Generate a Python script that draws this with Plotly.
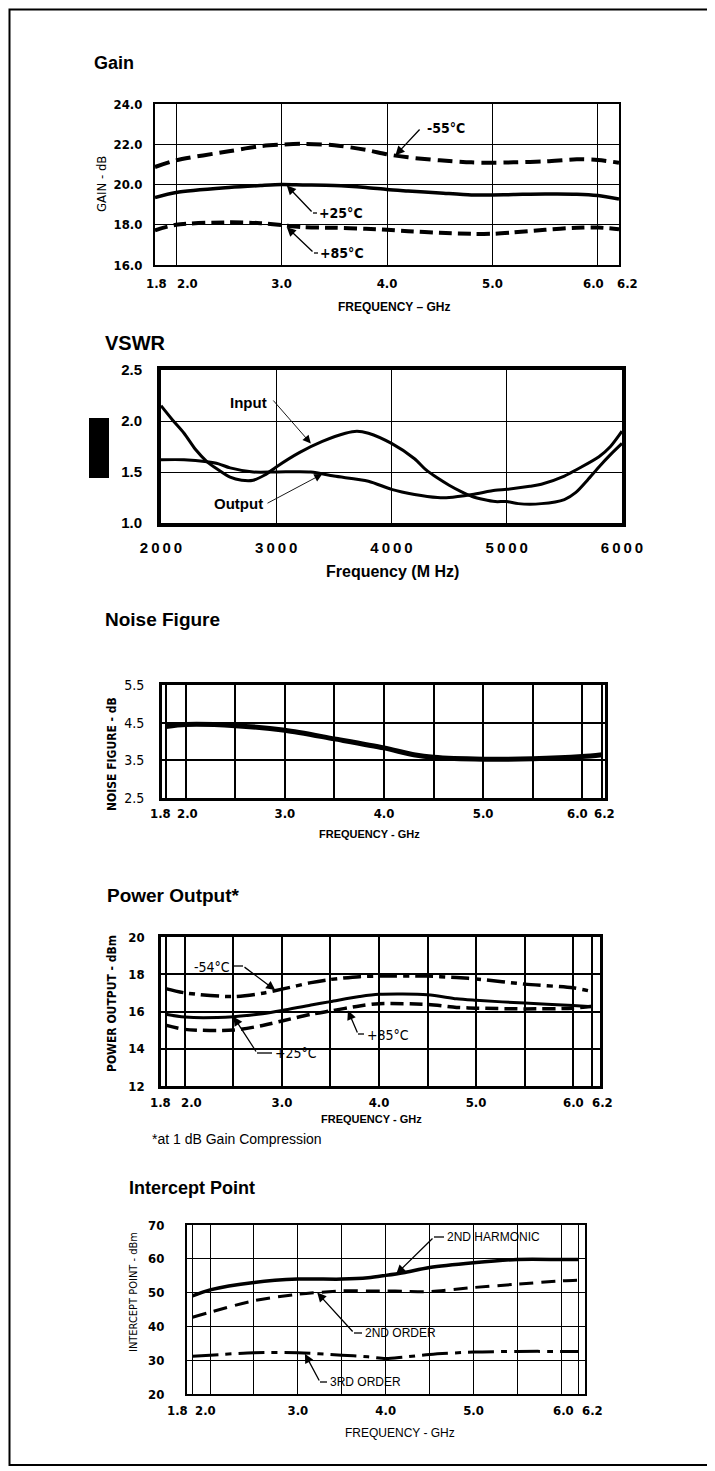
import plotly.graph_objects as go

# Browser body margin is 8px, so the figure is sized to the remaining window
OFF = 8
W, H = 715 - OFF, 1471 - OFF

# ---------------- data ----------------
gain_freq = [1.8, 2.0, 2.5, 2.8, 3.0, 3.2, 3.5, 3.8, 4.0, 4.2, 4.5, 4.8, 5.0, 5.2, 5.5, 5.8, 6.0, 6.2]
gain_m55 = [20.87, 21.2, 21.65, 21.9, 21.98, 22.02, 21.95, 21.72, 21.5, 21.35, 21.2, 21.1, 21.08, 21.1, 21.15, 21.25, 21.22, 21.08]
gain_p25 = [19.35, 19.6, 19.85, 19.95, 20.0, 19.98, 19.95, 19.85, 19.75, 19.68, 19.58, 19.48, 19.48, 19.5, 19.53, 19.52, 19.45, 19.28]
gain_p85 = [17.72, 18.0, 18.12, 18.08, 17.98, 17.88, 17.85, 17.8, 17.75, 17.68, 17.6, 17.55, 17.55, 17.62, 17.75, 17.85, 17.86, 17.78]

vswr_in_freq = [2000, 2100, 2200, 2300, 2400, 2500, 2600, 2700, 2800, 2900, 3000, 3200, 3400, 3600, 3700, 3800,
                4000, 4200, 4300, 4400, 4500, 4600, 4700, 4800, 4900, 5000, 5100, 5300, 5500, 5600, 5700, 5800, 5900, 6000]
vswr_in = [2.15, 2.01, 1.88, 1.72, 1.6, 1.52, 1.45, 1.42, 1.42, 1.47, 1.55, 1.69, 1.8, 1.88, 1.9, 1.88,
           1.78, 1.63, 1.52, 1.44, 1.37, 1.31, 1.26, 1.23, 1.21, 1.21, 1.19, 1.19, 1.23, 1.3, 1.42, 1.55, 1.67, 1.78]
vswr_out_freq = [2000, 2200, 2400, 2500, 2600, 2800, 3000, 3300, 3500, 3800, 4000, 4200, 4400, 4500, 4700, 4900,
                 5000, 5200, 5300, 5500, 5600, 5800, 5900, 6000]
vswr_out = [1.62, 1.62, 1.6, 1.58, 1.54, 1.5, 1.5, 1.5, 1.46, 1.41, 1.33, 1.28, 1.25, 1.25, 1.28, 1.32,
            1.33, 1.36, 1.38, 1.46, 1.52, 1.65, 1.75, 1.9]

nf_freq = [1.8, 2.0, 2.5, 3.0, 3.5, 4.0, 4.3, 4.5, 5.0, 5.5, 6.0, 6.2]
nf_db = [4.4, 4.45, 4.42, 4.3, 4.07, 3.83, 3.65, 3.58, 3.53, 3.54, 3.6, 3.65]

pw_freq = [1.8, 2.0, 2.5, 2.8, 3.0, 3.3, 3.5, 3.8, 4.0, 4.5, 4.8, 5.0, 5.5, 6.0, 6.2]
pw_m54 = [17.23, 17.0, 16.8, 16.98, 17.2, 17.55, 17.72, 17.87, 17.9, 17.9, 17.82, 17.75, 17.47, 17.27, 17.07]
pw_p25 = [15.85, 15.7, 15.72, 15.88, 16.05, 16.35, 16.53, 16.8, 16.92, 16.9, 16.68, 16.6, 16.45, 16.32, 16.26]
pw_p85 = [15.27, 15.04, 15.0, 15.25, 15.49, 15.85, 16.03, 16.3, 16.42, 16.38, 16.22, 16.18, 16.14, 16.18, 16.28]

ip_freq = [1.8, 2.0, 2.5, 3.0, 3.5, 3.8, 4.0, 4.2, 4.5, 5.0, 5.5, 6.0, 6.2]
ip_h2 = [49.0, 50.8, 53.0, 54.0, 54.0, 54.4, 55.1, 55.9, 57.4, 58.8, 59.8, 59.8, 59.8]
ip_o2 = [42.7, 44.2, 47.6, 49.5, 50.5, 50.5, 50.5, 50.4, 50.3, 51.5, 52.5, 53.5, 53.7]
ip_o3 = [31.2, 31.5, 32.2, 32.2, 31.5, 31.0, 30.5, 30.9, 31.7, 32.4, 32.6, 32.6, 32.6]

# tick values / labels
ghz_ticks = [1.8, 2.0, 3.0, 4.0, 5.0, 6.0, 6.2]
ghz_labels = ['1.8', '2.0', '3.0', '4.0', '5.0', '6.0', '6.2']
ghz_minor = [2.5, 3.5, 4.5, 5.5]
gain_ticks = [16, 18, 20, 22, 24]
gain_labels = ['16.0', '18.0', '20.0', '22.0', '24.0']
mhz_ticks = [2000, 3000, 4000, 5000, 6000]
mhz_labels = ['2000', '3000', '4000', '5000', '6000']
vswr_ticks = [1.0, 1.5, 2.0, 2.5]
vswr_labels = ['1.0', '1.5', '2.0', '2.5']
nf_ticks = [2.5, 3.5, 4.5, 5.5]
nf_labels = ['2.5', '3.5', '4.5', '5.5']
pw_ticks = [12, 14, 16, 18, 20]
pw_labels = ['12', '14', '16', '18', '20']
ip_ticks = [20, 30, 40, 50, 60, 70]
ip_labels = ['20', '30', '40', '50', '60', '70']

# ---------------- styling ----------------
BLACK = '#000000'
COND = "Liberation Sans Narrow, Arial Narrow, DejaVu Sans Condensed, Roboto, Liberation Sans, Arial, sans-serif"
SANS = "Liberation Sans, Arial, Helvetica, sans-serif"

panels = [
    dict(x0=155, x1=619, y0=104, y1=265, xr=[1.8, 6.2], yr=[16, 24]),
    dict(x0=161, x1=622, y0=370, y1=523, xr=[2000, 6000], yr=[1.0, 2.5]),
    dict(x0=162, x1=605, y0=685, y1=798, xr=[1.76, 6.23], yr=[2.5, 5.5]),
    dict(x0=161, x1=600, y0=937, y1=1086, xr=[1.753, 6.278], yr=[12, 20]),
    dict(x0=187, x1=585, y0=1225, y1=1394, xr=[1.737, 6.27], yr=[20, 70]),
]

# crowded end labels are drawn as separate texts, nudged (px) like the printed sheet
end_labels = {
    0: dict(y=284, nudge={'1.8': 1, '2.0': 11, '6.0': -4, '6.2': 8}),
    2: dict(y=813, nudge={'1.8': -5, '2.0': 2, '6.0': -5, '6.2': 2}),
    3: dict(y=1102, nudge={'1.8': -5, '2.0': 7, '6.0': 0, '6.2': 10}),
    4: dict(y=1410, nudge={'1.8': -15, '2.0': -5, '6.0': 2, '6.2': 14}),
}


def spaced(labels):
    return ['\u2009'.join(list(l)) for l in labels]


def px(x):
    return (x - OFF) / W


def py(y):
    return 1 - (y - OFF) / H


def d2p(i, xv, yv):
    p = panels[i]
    X = p['x0'] + (xv - p['xr'][0]) / (p['xr'][1] - p['xr'][0]) * (p['x1'] - p['x0'])
    Y = p['y1'] - (yv - p['yr'][0]) / (p['yr'][1] - p['yr'][0]) * (p['y1'] - p['y0'])
    return X, Y


def sfx(i):
    return '' if i == 0 else str(i + 1)


fig = go.Figure()


def add_line(i, x, y, width, dash='solid', smoothing=0.8):
    s = sfx(i)
    fig.add_trace(go.Scatter(
        x=x, y=y, mode='lines', xaxis='x' + s, yaxis='y' + s,
        line=dict(color=BLACK, width=width, dash=dash, shape='spline', smoothing=smoothing),
        hoverinfo='skip', showlegend=False))


add_line(0, gain_freq, gain_m55, 4, '15px,7px')
add_line(0, gain_freq, gain_p25, 3.5)
add_line(0, gain_freq, gain_p85, 4, '13px,6px')

add_line(1, vswr_in_freq, vswr_in, 3)
add_line(1, vswr_out_freq, vswr_out, 3)

add_line(2, nf_freq, nf_db, 5)

add_line(3, pw_freq, pw_m54, 3.5, '18px,6px,6px,6px')
add_line(3, pw_freq, pw_p25, 3)
add_line(3, pw_freq, pw_p85, 3.5, '13px,6px')

add_line(4, ip_freq, ip_h2, 3.5)
add_line(4, ip_freq, ip_o2, 3, '14px,8px')
add_line(4, ip_freq, ip_o3, 3, '26px,7px,6px,7px')

XT = dict(family=COND, size=13, color=BLACK, weight=700)
mid_labels = [l if l in ('3.0', '4.0', '5.0') else '' for l in ghz_labels]

axis_specs = [
    dict(xt=ghz_ticks, xl=mid_labels, xminor=None, yt=gain_ticks, yl=gain_labels,
         frame=2, grid=1.3, xfont=XT,
         yfont=dict(family=COND, size=13, color=BLACK, weight=700), xs=5, ys=8),
    dict(xt=mhz_ticks, xl=spaced(mhz_labels), xminor=None, yt=vswr_ticks, yl=vswr_labels,
         frame=4, grid=1,
         xfont=dict(family=SANS, size=15, color=BLACK, weight=700),
         yfont=dict(family=SANS, size=15, color=BLACK, weight=700), xs=8, ys=12),
    dict(xt=ghz_ticks, xl=mid_labels, xminor=ghz_minor, yt=nf_ticks, yl=nf_labels,
         frame=3, grid=1.8, xfont=XT,
         yfont=dict(family=COND, size=14, color=BLACK), xs=1, ys=12),
    dict(xt=ghz_ticks, xl=mid_labels, xminor=ghz_minor, yt=pw_ticks, yl=pw_labels,
         frame=2.5, grid=1.5, xfont=XT,
         yfont=dict(family=COND, size=13, color=BLACK, weight=700), xs=3, ys=11),
    dict(xt=ghz_ticks, xl=mid_labels, xminor=ghz_minor, yt=ip_ticks, yl=ip_labels,
         frame=2, grid=1.3, xfont=XT,
         yfont=dict(family=COND, size=13, color=BLACK, weight=700), xs=3, ys=18),
]

layout = dict(width=W, height=H, margin=dict(l=0, r=0, t=0, b=0, pad=0, autoexpand=False),
              paper_bgcolor='white', plot_bgcolor='white', showlegend=False)

for i, (p, a) in enumerate(zip(panels, axis_specs)):
    s = sfx(i)
    xa = dict(domain=[px(p['x0']), px(p['x1'])], range=p['xr'], anchor='y' + s,
              tickmode='array', tickvals=a['xt'], ticktext=a['xl'], tickangle=0,
              tickfont=a['xfont'], ticks='', ticklabelstandoff=a['xs'], automargin=False,
              showgrid=True, gridcolor=BLACK, gridwidth=a['grid'], zeroline=False,
              showline=True, mirror=True, linecolor=BLACK, linewidth=a['frame'], fixedrange=True)
    if a['xminor']:
        xa['minor'] = dict(tickmode='array', tickvals=a['xminor'], showgrid=True,
                           gridcolor=BLACK, gridwidth=a['grid'], ticks='')
    ya = dict(domain=[py(p['y1']), py(p['y0'])], range=p['yr'], anchor='x' + s,
              tickmode='array', tickvals=a['yt'], ticktext=a['yl'],
              tickfont=a['yfont'], ticks='', ticklabelstandoff=a['ys'], automargin=False,
              showgrid=True, gridcolor=BLACK, gridwidth=a['grid'], zeroline=False,
              showline=True, mirror=True, linecolor=BLACK, linewidth=a['frame'], fixedrange=True)
    layout['xaxis' + s] = xa
    layout['yaxis' + s] = ya

annotations = []
shapes = []


def text(x, y, t, font, xanchor='left', angle=0):
    annotations.append(dict(x=px(x), y=py(y), xref='paper', yref='paper', text=t, showarrow=False,
                            xanchor=xanchor, yanchor='middle', font=font, textangle=angle, borderpad=0))


# end tick labels (1.8, 2.0, 6.0, 6.2)
for i, spec in end_labels.items():
    for val, lab in zip(ghz_ticks, ghz_labels):
        if lab in spec['nudge']:
            X, _ = d2p(i, val, panels[i]['yr'][0])
            text(X + spec['nudge'][lab], spec['y'], lab, XT, 'center')

# panel titles
TF = dict(family=SANS, size=19, color=BLACK, weight=700)
text(93, 63, 'Gain', dict(family=SANS, size=18, color=BLACK, weight=700))
text(104, 343, 'VSWR', dict(family=SANS, size=20, color=BLACK, weight=700))
text(104, 619, 'Noise Figure', TF)
text(106, 895, 'Power Output*', TF)
text(128, 1188, 'Intercept Point', dict(family=SANS, size=18, color=BLACK, weight=700))

# axis titles
XF = dict(family=SANS, size=12, color=BLACK, weight=700)
text(394, 307, 'FREQUENCY – GHz', XF, 'center')
text(392, 572, 'Frequency (M Hz)', dict(family=SANS, size=16, color=BLACK, weight=700), 'center')
text(369, 834, 'FREQUENCY - GHz', dict(family=SANS, size=11, color=BLACK, weight=700), 'center')
text(371, 1119, 'FREQUENCY - GHz', dict(family=SANS, size=11, color=BLACK, weight=700), 'center')
text(400, 1433, 'FREQUENCY - GHz', dict(family=SANS, size=12, color=BLACK), 'center')
text(151, 1139, '*at 1 dB Gain Compression', dict(family=SANS, size=14, color=BLACK))

text(101, 184, 'GAIN - dB', dict(family=COND, size=13, color=BLACK), 'center', -90)
text(112, 754, 'NOISE FIGURE - dB', dict(family=COND, size=12, color=BLACK, weight=700), 'center', -90)
text(112, 1004, 'POWER OUTPUT - dBm', dict(family=COND, size=12, color=BLACK, weight=700), 'center', -90)
text(133, 1292, 'INTERCEPT POINT - dBm', dict(family=COND, size=11, color=BLACK), 'center', -90)

# leader labels: panel, tip (data), kink px, segment end px (or None), label pos px, anchor, text, font
LG = dict(family=COND, size=14, color=BLACK, weight=700)
LV = dict(family=SANS, size=15, color=BLACK, weight=700)
LP = dict(family=COND, size=14, color=BLACK)
LI = dict(family=SANS, size=12, color=BLACK)
leaders = [
    (0, (4.08, 21.45), (421, 128), None, (426, 128), 'left', '-55°C', LG),
    (0, (3.05, 19.95), (313, 213), (317, 213), (318, 213), 'left', '+25°C', LG),
    (0, (3.05, 17.88), (314, 253), (318, 253), (319, 253), 'left', '+85°C', LG),
    (1, (3300, 1.78), (272, 399), None, (268, 402), 'right', 'Input', LV),
    (1, (3400, 1.48), (266, 504), None, (264, 504), 'right', 'Output', LV),
    (3, (2.93, 17.15), (243, 966), (232, 966), (231, 967), 'right', '-54°C', LP),
    (3, (2.5, 15.72), (257, 1053), (272, 1053), (274, 1053), 'left', '+25°C', LP),
    (3, (3.68, 16.05), (358, 1034), (364, 1034), (366, 1035), 'left', '+85°C', LP),
    (4, (4.12, 55.5), (434, 1237), (444, 1237), (446, 1237), 'left', '2ND HARMONIC', LI),
    (4, (3.22, 50.0), (354, 1333), (362, 1333), (364, 1333), 'left', '2ND ORDER', LI),
    (4, (3.08, 31.9), (320, 1382), (327, 1382), (329, 1382), 'left', '3RD ORDER', LI),
]

for (i, tip, kink, seg, lab, anc, t, font) in leaders:
    s = sfx(i)
    tx, ty = d2p(i, tip[0], tip[1])
    lw = 0.9 if i == 1 else 1.3
    annotations.append(dict(x=tip[0], y=tip[1], xref='x' + s, yref='y' + s, text='',
                            showarrow=True, arrowhead=2, arrowsize=1.4 if i != 1 else 1.8,
                            arrowwidth=lw, arrowcolor=BLACK,
                            ax=kink[0] - tx, ay=kink[1] - ty, axref='pixel', ayref='pixel'))
    if seg is not None:
        shapes.append(dict(type='line', xref='paper', yref='paper', x0=px(kink[0]), y0=py(kink[1]),
                           x1=px(seg[0]), y1=py(seg[1]), line=dict(color=BLACK, width=lw)))
    text(lab[0], lab[1], t, font, anc)

# outer frame and black block
shapes.append(dict(type='rect', xref='paper', yref='paper', x0=px(9.5), x1=px(708), y0=py(1465), y1=py(9.5),
                   line=dict(color=BLACK, width=2), fillcolor='rgba(0,0,0,0)'))
shapes.append(dict(type='rect', xref='paper', yref='paper', x0=px(89), x1=px(109), y0=py(478), y1=py(418),
                   line=dict(color=BLACK, width=0), fillcolor=BLACK))

layout['annotations'] = annotations
layout['shapes'] = shapes
fig.update_layout(**layout)

fig.write_html("out.html")
